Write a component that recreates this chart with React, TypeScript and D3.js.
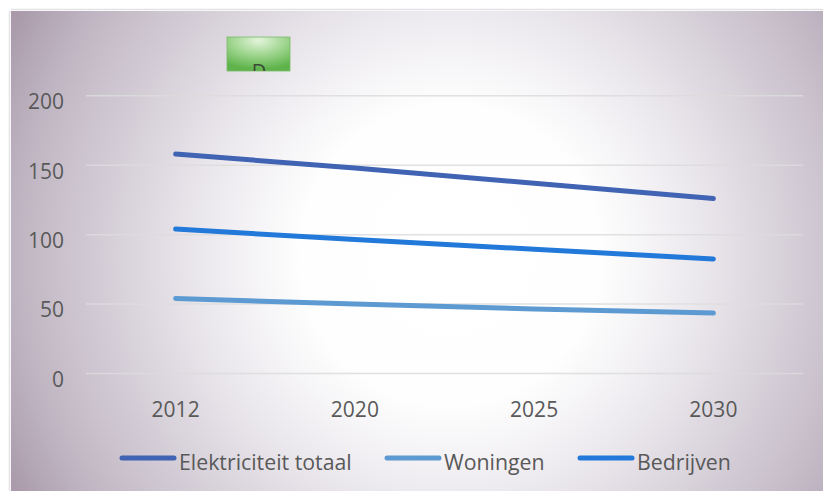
import React, { useEffect, useRef } from "react";
import * as d3 from "d3";

const categories = ["2012", "2020", "2025", "2030"];
const elektriciteitTotaal = [158, 148, 137, 126];
const woningen = [54, 50, 46.5, 43.5];
const bedrijven = [104, 96.5, 89.5, 82.5];
const yTicks = [0, 50, 100, 150, 200];
const seriesNames = ["Elektriciteit totaal", "Woningen", "Bedrijven"];
const seriesColors = ["#4163b4", "#5d9ad2", "#2279da"];

const W = 823;
const H = 491;
const FONT = "'Open Sans', 'Noto Sans', sans-serif";

export default function App() {
  const ref = useRef<SVGSVGElement | null>(null);

  useEffect(() => {
    const svg = d3.select(ref.current);
    svg.selectAll("*").remove();

    const defs = svg.append("defs");
    const bg = defs
      .append("radialGradient")
      .attr("id", "bg")
      .attr("gradientUnits", "userSpaceOnUse")
      .attr("cx", 450)
      .attr("cy", 255)
      .attr("r", 500);
    [
      [0, "#ffffff"],
      [0.3, "#fefefe"],
      [0.5, "#ebe8ed"],
      [0.86, "#c0b6c3"],
      [1, "#a898a9"],
    ].forEach(([o, c]) => bg.append("stop").attr("offset", o as number).attr("stop-color", c as string));

    const gg = defs
      .append("radialGradient")
      .attr("id", "green")
      .attr("cx", 0.5)
      .attr("cy", 0.1)
      .attr("r", 0.85);
    [
      [0, "#e4f4dc"],
      [0.5, "#a0d690"],
      [1, "#5fb34b"],
    ].forEach(([o, c]) => gg.append("stop").attr("offset", o as number).attr("stop-color", c as string));

    defs
      .append("clipPath")
      .attr("id", "boxclip")
      .append("rect")
      .attr("x", 227)
      .attr("y", 37)
      .attr("width", 63)
      .attr("height", 34);

    svg.append("rect").attr("width", W).attr("height", H).attr("fill", "#ffffff");
    svg
      .append("rect")
      .attr("x", 11)
      .attr("y", 11)
      .attr("width", W - 11)
      .attr("height", H - 11)
      .attr("fill", "url(#bg)");
    svg
      .append("line")
      .attr("x1", 11)
      .attr("x2", W)
      .attr("y1", 9.5)
      .attr("y2", 9.5)
      .attr("stroke", "#e4e2e6")
      .attr("stroke-width", 1.5);
    svg
      .append("line")
      .attr("x1", 9.5)
      .attr("x2", 9.5)
      .attr("y1", 11)
      .attr("y2", H)
      .attr("stroke", "#e4e2e6")
      .attr("stroke-width", 1.5);

    const x = d3.scalePoint<string>().domain(categories).range([86, 803]).padding(0.5);
    const y = d3.scaleLinear().domain([0, 200]).range([373.5, 95.8]);

    // gridlines
    svg
      .append("g")
      .selectAll("line")
      .data(yTicks)
      .join("line")
      .attr("x1", 86)
      .attr("x2", 803)
      .attr("y1", (d) => y(d))
      .attr("y2", (d) => y(d))
      .attr("stroke", "#dcdcdc")
      .attr("stroke-opacity", 0.85)
      .attr("stroke-width", 1.5);

    // y labels
    svg
      .append("g")
      .selectAll("text")
      .data(yTicks)
      .join("text")
      .attr("x", 64)
      .attr("y", (d) => y(d) + 13.3)
      .attr("text-anchor", "end")
      .attr("font-family", FONT)
      .attr("font-size", 21)
      .attr("fill", "#595959")
      .text((d) => String(d));

    // x labels
    svg
      .append("g")
      .selectAll("text")
      .data(categories)
      .join("text")
      .attr("x", (d) => x(d) as number)
      .attr("y", 417.3)
      .attr("text-anchor", "middle")
      .attr("font-family", FONT)
      .attr("font-size", 21)
      .attr("fill", "#595959")
      .text((d) => d);

    const series = [elektriciteitTotaal, woningen, bedrijven];
    const line = d3
      .line<number>()
      .x((_, i) => x(categories[i]) as number)
      .y((d) => y(d));

    series.forEach((vals, si) => {
      svg
        .append("path")
        .attr("d", line(vals) as string)
        .attr("fill", "none")
        .attr("stroke", seriesColors[si])
        .attr("stroke-width", 5)
        .attr("stroke-linecap", "round")
        .attr("stroke-linejoin", "round");
    });

    // legend
    const legendLineX = [120, 385, 578];
    const legendLineW = 56;
    seriesNames.forEach((name, i) => {
      svg
        .append("line")
        .attr("x1", legendLineX[i] + 2)
        .attr("x2", legendLineX[i] + legendLineW - 2)
        .attr("y1", 458)
        .attr("y2", 458)
        .attr("stroke", seriesColors[i])
        .attr("stroke-width", 5)
        .attr("stroke-linecap", "round");
      svg
        .append("text")
        .attr("x", legendLineX[i] + legendLineW + 3)
        .attr("y", 470)
        .attr("font-family", FONT)
        .attr("font-size", 21.3)
        .attr("fill", "#595959")
        .text(name);
    });

    // green box
    svg
      .append("rect")
      .attr("x", 227)
      .attr("y", 37)
      .attr("width", 63)
      .attr("height", 34)
      .attr("fill", "url(#green)")
      .attr("stroke", "#7cbb6a")
      .attr("stroke-width", 0.8);
    svg
      .append("text")
      .attr("x", 259)
      .attr("y", 78)
      .attr("text-anchor", "middle")
      .attr("font-family", FONT)
      .attr("font-size", 20)
      .attr("fill", "#3a4a36")
      .attr("clip-path", "url(#boxclip)")
      .text("D");
  }, []);

  return (
    <svg
      ref={ref}
      width={W}
      height={H}
      style={{ position: "absolute", left: 0, top: 0, display: "block" }}
    />
  );
}
